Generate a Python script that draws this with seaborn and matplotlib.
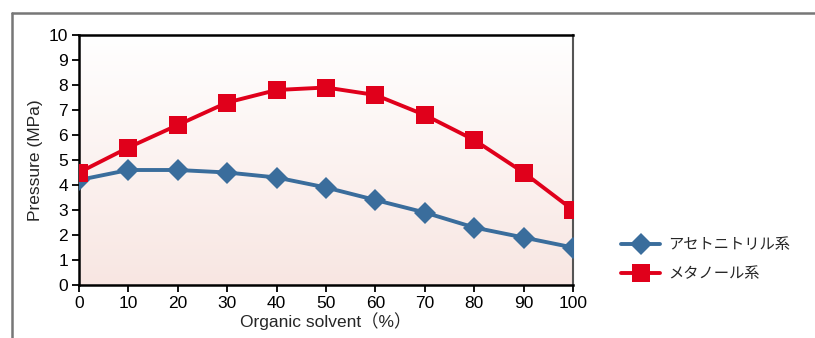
import numpy as np
import pandas as pd
import matplotlib
matplotlib.use("Agg")
import matplotlib.pyplot as plt
from matplotlib.lines import Line2D
import seaborn as sns

# data
solvent_pct = [0, 10, 20, 30, 40, 50, 60, 70, 80, 90, 100]
acetonitrile = [4.2, 4.6, 4.6, 4.5, 4.3, 3.9, 3.4, 2.9, 2.3, 1.9, 1.5]
methanol = [4.5, 5.5, 6.4, 7.3, 7.8, 7.9, 7.6, 6.8, 5.8, 4.5, 3.0]
series_names = ["アセトニトリル系", "メタノール系"]
x_ticks = [0, 10, 20, 30, 40, 50, 60, 70, 80, 90, 100]
y_ticks = [0, 1, 2, 3, 4, 5, 6, 7, 8, 9, 10]

sns.set_style("white")
plt.rcParams['font.family'] = ['Liberation Sans', 'Noto Sans CJK JP', 'DejaVu Sans']

df = pd.DataFrame({
    "pct": solvent_pct * 2,
    "pressure": acetonitrile + methanol,
    "series": [series_names[0]] * len(solvent_pct) + [series_names[1]] * len(solvent_pct),
})

blue = "#3a6d9c"
red = "#e0001b"

fig = plt.figure(figsize=(8.15, 3.38), dpi=100)
ax = fig.add_axes([79 / 815, 1 - 285 / 338, (573 - 79) / 815, (285 - 35) / 338])

# gradient background (white at top to pale pink at bottom)
grad = np.linspace(0, 1, 256).reshape(-1, 1)
top = np.array([1.0, 1.0, 1.0])
bottom = np.array([248, 230, 226]) / 255
img = top + (bottom - top) * grad[..., None]
ax.imshow(img, extent=[0, 100, 0, 10], origin="upper", aspect="auto", zorder=0)

sns.lineplot(data=df, x="pct", y="pressure", hue="series", style="series",
             palette={series_names[0]: blue, series_names[1]: red},
             markers={series_names[0]: "D", series_names[1]: "s"},
             dashes=False, linewidth=2.8, markersize=11, markeredgewidth=0,
             legend=False, ax=ax, zorder=3)
for ln in ax.lines:
    if ln.get_marker() == "s":
        ln.set_markersize(12.5)
    else:
        ln.set_markersize(11)

ax.set_xlim(0, 100)
ax.set_ylim(0, 10)
ax.set_xticks(x_ticks)
ax.set_yticks(y_ticks)
ax.tick_params(axis="both", direction="out", length=5, width=1.3, colors="black",
               labelsize=12.5, pad=3, bottom=True, left=True)
ax.set_xlabel("Organic solvent（%）", fontsize=12.5, labelpad=1)
ax.set_ylabel("Pressure (MPa)", fontsize=12.5, labelpad=4)

for side in ["left", "bottom", "top"]:
    ax.spines[side].set_color("black")
    ax.spines[side].set_linewidth(1.8)
ax.spines["right"].set_color("#555555")
ax.spines["right"].set_linewidth(1.5)

handles = [
    Line2D([], [], color=blue, lw=2.8, marker="D", markersize=11, markeredgewidth=0),
    Line2D([], [], color=red, lw=2.8, marker="s", markersize=12.5, markeredgewidth=0),
]
fig.legend(handles, series_names, loc="center left", bbox_to_anchor=(607 / 815, 1 - 259 / 338),
           frameon=False, handlelength=2.6, labelspacing=0.8, handletextpad=0.5,
           prop={"family": ["Noto Sans CJK JP", "DejaVu Sans"], "size": 11})

# outer gray frame (top and left)
fig.add_artist(Line2D([12 / 815, 1.0], [1 - 13 / 338, 1 - 13 / 338], color="#777777", lw=1.8,
                      transform=fig.transFigure))
fig.add_artist(Line2D([12 / 815, 12 / 815], [0, 1 - 13 / 338], color="#777777", lw=1.8,
                      transform=fig.transFigure))

fig.savefig("out.png", dpi=100)
